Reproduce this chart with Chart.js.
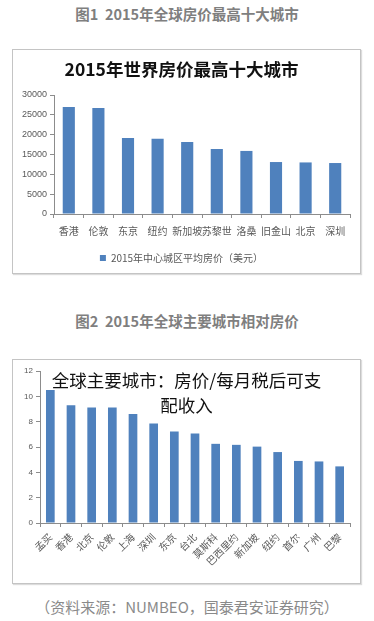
<!DOCTYPE html>
<html>
<head>
<meta charset="utf-8">
<script src="https://cdn.jsdelivr.net/npm/chart.js@4/dist/chart.umd.min.js"></script>
<style>
  html, body { margin: 0; padding: 0; background: #fff; }
  body { width: 374px; height: 621px; position: relative; overflow: hidden;
         font-family: "Noto Sans CJK SC", "Noto Sans", sans-serif; }
  .hdr { position: absolute; left: 0; width: 374px; text-align: center;
         font-weight: bold; font-size: 14.5px; color: #7f7f7f; line-height: 20px; }
  .box { position: absolute; left: 12px; width: 349px; height: 225px; box-sizing: border-box;
         border: 1px solid #c4c4c4; box-shadow: 1px 1px 1px #dcdcdc; background: #fff; }
  .box canvas { position: absolute; left: 0; top: 0; }
  .t2 { position: absolute; left: 12px; width: 349px; text-align: center; font-size: 17.5px;
        line-height: 25px; color: #111; pointer-events: none; }
  .src { position: absolute; left: 0; width: 374px; text-align: center; font-size: 15px;
         color: #8a8a8a; line-height: 20px; }
</style>
</head>
<body>
<div class="hdr" style="top:4px">图1&nbsp; 2015年全球房价最高十大城市</div>
<div class="box" style="top:49px"><canvas id="c1" width="347" height="223"></canvas></div>
<div class="hdr" style="top:311px">图2&nbsp; 2015年全球主要城市相对房价</div>
<div class="box" style="top:359px"><canvas id="c2" width="347" height="223"></canvas></div>
<div class="t2" style="top:367px">全球主要城市：房价/每月税后可支<br>配收入</div>
<div class="src" style="top:597px">（资料来源：NUMBEO，国泰君安证券研究）</div>
<script>
// ---- Chart 1 data ----
const cities1 = ["香港", "伦敦", "东京", "纽约", "新加坡", "苏黎世", "洛桑", "旧金山", "北京", "深圳"];
const price1 = [27000, 26750, 19150, 19000, 18150, 16400, 15900, 13100, 13000, 12850];
const series1Label = "2015年中心城区平均房价（美元）";
const title1 = "2015年世界房价最高十大城市";
const yTicks1 = [0, 5000, 10000, 15000, 20000, 25000, 30000];

// ---- Chart 2 data ----
const cities2 = ["孟买", "香港", "北京", "伦敦", "上海", "深圳", "东京", "台北", "莫斯科", "巴西里约", "新加坡", "纽约", "首尔", "广州", "巴黎"];
const ratio2 = [10.5, 9.3, 9.12, 9.12, 8.6, 7.85, 7.22, 7.06, 6.25, 6.17, 6.03, 5.6, 4.9, 4.86, 4.47];
const yTicks2 = [0, 2, 4, 6, 8, 10, 12];

const BLUE = "#4f81bd";
const AXIS = "#8c8c8c";
const TXT = "#595959";
Chart.defaults.animation = false;
Chart.defaults.font.family = '"Noto Sans CJK SC", "Liberation Sans", sans-serif';

new Chart(document.getElementById("c1"), {
  type: "bar",
  data: { labels: cities1, datasets: [{ label: series1Label, data: price1, backgroundColor: BLUE,
          barPercentage: 0.41, categoryPercentage: 1 }] },
  options: {
    responsive: false,
    layout: { padding: { left: 0, right: 10, top: 0, bottom: 0 } },
    plugins: {
      title: { display: true, text: title1, color: "#111",
               font: { size: 17.5, weight: "bold" }, padding: { top: 9, bottom: 15 } },
      legend: { position: "bottom",
                labels: { boxWidth: 6, boxHeight: 6, color: TXT, font: { size: 10 }, padding: 8 } },
      tooltip: { enabled: false }
    },
    scales: {
      x: { grid: { display: true, drawOnChartArea: false, tickLength: 4, color: AXIS },
           border: { color: AXIS },
           ticks: { color: TXT, font: { size: 10 }, maxRotation: 0, minRotation: 0, autoSkip: false, padding: 7 },
           afterFit: s => { s.height = 31; } },
      y: { min: 0, max: 30000,
           afterBuildTicks: s => { s.ticks = yTicks1.map(v => ({ value: v })); },
           grid: { display: true, drawOnChartArea: false, tickLength: 4, color: AXIS },
           border: { color: AXIS },
           ticks: { color: TXT, font: { size: 9, family: '"Liberation Sans", sans-serif' }, padding: 3,
                    callback: v => String(v) },
           afterFit: s => { s.width = 41; } }
    }
  }
});

new Chart(document.getElementById("c2"), {
  type: "bar",
  data: { labels: cities2, datasets: [{ label: "房价/每月税后可支配收入", data: ratio2, backgroundColor: BLUE,
          barPercentage: 0.42, categoryPercentage: 1 }] },
  options: {
    responsive: false,
    layout: { padding: { left: 0, right: 10, top: 11, bottom: 0 } },
    plugins: { legend: { display: false }, title: { display: false }, tooltip: { enabled: false } },
    scales: {
      x: { grid: { display: true, drawOnChartArea: false, tickLength: 4, color: AXIS },
           border: { color: AXIS },
           ticks: { color: TXT, font: { size: 10 }, maxRotation: 45, minRotation: 45, autoSkip: false, padding: 4 },
           afterFit: s => { s.height = 60; } },
      y: { min: 0, max: 12,
           afterBuildTicks: s => { s.ticks = yTicks2.map(v => ({ value: v })); },
           grid: { display: true, drawOnChartArea: false, tickLength: 4, color: AXIS },
           border: { color: AXIS },
           ticks: { color: TXT, font: { size: 8, family: '"Liberation Sans", sans-serif' }, padding: 3,
                    callback: v => String(v) },
           afterFit: s => { s.width = 27; } }
    }
  }
});
</script>
</body>
</html>
